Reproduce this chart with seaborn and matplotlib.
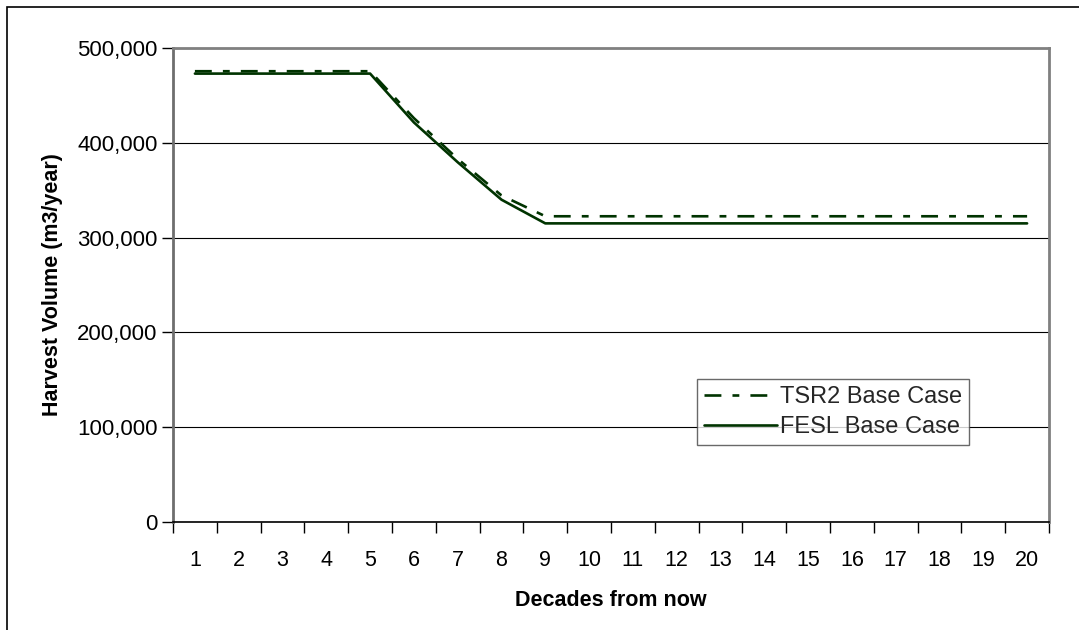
import matplotlib
matplotlib.use("Agg")
import matplotlib.pyplot as plt
import matplotlib.ticker as mticker
from matplotlib.patches import Rectangle
import pandas as pd
import seaborn as sns

decades = list(range(1, 21))
tsr2_base = [475500, 475500, 475500, 475500, 475500, 426000, 383000, 344500, 322500,
             322500, 322500, 322500, 322500, 322500, 322500, 322500, 322500, 322500, 322500, 322500]
fesl_base = [473000, 473000, 473000, 473000, 473000, 421500, 379500, 340000, 315000,
             315000, 315000, 315000, 315000, 315000, 315000, 315000, 315000, 315000, 315000, 315000]
series_names = ["TSR2 Base Case", "FESL Base Case"]
y_ticks = [0, 100000, 200000, 300000, 400000, 500000]

sns.set_style("white")
plt.rcParams["font.family"] = ["Liberation Sans", "DejaVu Sans"]

df = pd.DataFrame({
    "decade": decades * 2,
    "volume": tsr2_base + fesl_base,
    "series": [series_names[0]] * 20 + [series_names[1]] * 20,
})

fig = plt.figure(figsize=(10.79, 6.30), dpi=100)
ax = fig.add_axes([173 / 1079, 1 - 522 / 630, (1049 - 173) / 1079, (522 - 48) / 630])

green = "#003300"
fs = 15.5
sns.lineplot(data=df, x="decade", y="volume", hue="series", style="series",
             palette=[green, green], dashes=[(6.4, 4.2, 2.6, 4.2), ""], linewidth=1.9,
             ax=ax, legend=True)

ax.set_xlim(0.5, 20.5)
ax.set_ylim(0, 500000)

# y axis
ax.set_yticks(y_ticks)
ax.yaxis.set_major_formatter(mticker.FuncFormatter(lambda v, p: f"{int(v):,}"))
ax.tick_params(axis="y", which="major", direction="out", length=8, width=1,
               color="black", labelsize=fs + 0.5, pad=3, left=True, labelcolor="black")
ax.yaxis.grid(True, color="black", linewidth=0.8)
ax.set_axisbelow(True)

# x axis: tick marks at category boundaries, labels centred on categories
ax.xaxis.set_major_locator(mticker.FixedLocator([i + 0.5 for i in range(0, 21)]))
ax.xaxis.set_major_formatter(mticker.NullFormatter())
ax.xaxis.set_minor_locator(mticker.FixedLocator(decades))
ax.xaxis.set_minor_formatter(mticker.FixedFormatter([str(d) for d in decades]))
ax.tick_params(axis="x", which="major", direction="out", length=8, width=1,
               color="black", bottom=True)
ax.tick_params(axis="x", which="minor", length=0, labelsize=fs, pad=20,
               labelcolor="black")

ax.set_xlabel("Decades from now", fontsize=fs, fontweight="bold", labelpad=14,
              color="black")
ax.set_ylabel("Harvest Volume (m3/year)", fontsize=fs, fontweight="bold", labelpad=10,
              color="black")

for side in ["top", "right", "left"]:
    ax.spines[side].set_color("#808080")
    ax.spines[side].set_linewidth(2)
ax.spines["left"].set_color("#6e6e6e")
ax.spines["bottom"].set_color("black")
ax.spines["bottom"].set_linewidth(1.2)

leg = ax.legend(loc="upper left", bbox_to_anchor=((697 - 173) / 876, 1 - (379 - 48) / 474),
                frameon=True, fancybox=False, fontsize=17, handlelength=3.1,
                handletextpad=0.1, borderpad=0.3, labelspacing=0.33,
                borderaxespad=0)
leg.get_frame().set_edgecolor("#444444")
leg.get_frame().set_linewidth(1.0)
leg.set_title(None)

# outer frame of the chart area
fig.patches.append(Rectangle((7 / 1079, -0.5), 2, 0.5 + 1 - 7 / 630,
                             transform=fig.transFigure, fill=False,
                             edgecolor="black", linewidth=1.2, clip_on=False))

fig.savefig("out.png", dpi=100, facecolor="white")
